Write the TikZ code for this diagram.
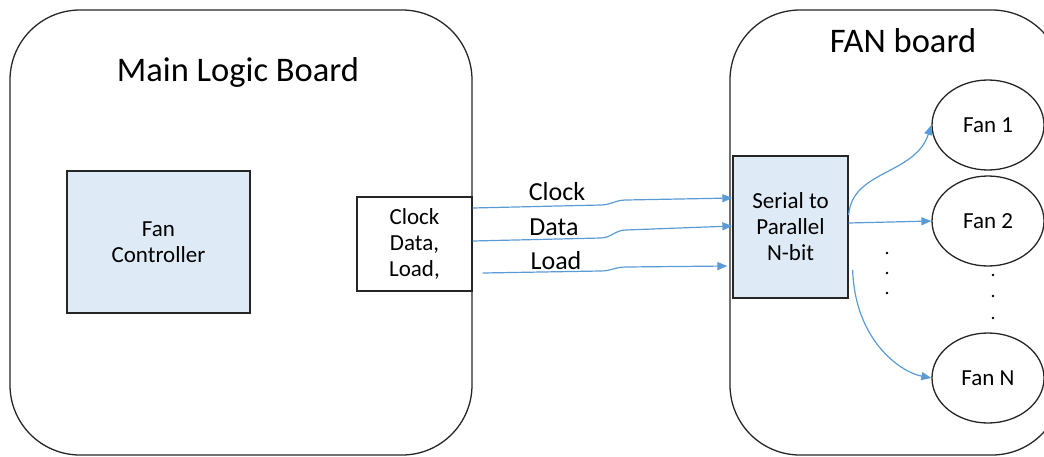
\documentclass[tikz,border=0pt]{standalone}
\usepackage{fontspec}
\setmainfont{Carlito}
\usetikzlibrary{shapes.geometric,arrows.meta}
\definecolor{boxblue}{HTML}{DEEBF7}
\definecolor{wireblue}{HTML}{5B9BD5}

\begin{document}
\begin{tikzpicture}[x=1pt,y=-1pt,
    board/.style={draw=black!85,rounded corners=70pt,line width=1.3pt,inner sep=0pt},
    block/.style={draw=black!85,line width=1.3pt,inner sep=0pt,align=center,font=\fontsize{23}{26}\selectfont},
    fan/.style={draw=black!85,ellipse,line width=1.3pt,minimum width=112pt,minimum height=90pt,inner sep=0pt,font=\fontsize{23}{26}\selectfont},
    wire/.style={draw=wireblue,line width=1.2pt,-{Triangle[length=10pt,width=8pt]}},
    lbl/.style={font=\fontsize{26}{30}\selectfont},
    title/.style={font=\fontsize{34.5}{41}\selectfont},
    vertex/.style={circle,fill=black,minimum size=2.6pt,inner sep=0pt}]
        \useasboundingbox (0,0) rectangle (1044,456);
        \clip (0,0) rectangle (1044,456);
        \path
          (241,232.5) node[board,minimum width=462pt,minimum height=445pt] (mlb) {}
          (896,232.5) node[board,minimum width=332pt,minimum height=445pt] (fb)  {};
        \node[title] (mlbt) at (238,72) {Main Logic Board};
        \node[title] (fbt)  at (903,41) {FAN board};
        \path
          (158.5,242) node[block,fill=boxblue,minimum width=183pt,minimum height=142pt] (fc)  {Fan\\Controller}
          (414.5,244) node[block,fill=white,minimum width=115pt,minimum height=94pt]    (sig) {Clock\\Data,\\Load,}
          (790.5,227) node[block,fill=boxblue,minimum width=115pt,minimum height=142pt] (s2p) {Serial to\\Parallel\\N-bit};
        \path
          (988,125) node[fan] (fan1) {Fan 1}
          (988,221) node[fan] (fan2) {Fan 2}
          (988,378) node[fan] (fanN) {Fan N};
        \path
          (887,253) node[vertex] (d1) {}
          (887,273) node[vertex] (d2) {}
          (887,293) node[vertex] (d3) {}
          (993,275) node[vertex] (d4) {}
          (993,296) node[vertex] (d5) {}
          (993,318) node[vertex] (d6) {};
        \node[lbl] (clk)  at (557,192) {Clock};
        \node[lbl] (dat)  at (554,227) {Data};
        \node[lbl] (load) at (556,261) {Load};
        % serial lines
        \draw[wire] ([yshift=36pt]sig.east) -- ++(128,-3) to[out=0,in=180] ++(25,-5) -- ([yshift=29pt]s2p.west);
        \draw[wire] ([yshift=3pt]sig.east) -- ++(128,-3) to[out=0,in=180] ++(25,-8) -- ([yshift=1pt]s2p.west);
        \draw[wire] ([xshift=10pt,yshift=-29pt]sig.east) -- ++(118,-2) to[out=0,in=180] ++(25,-4) -- ([xshift=-5pt,yshift=-39pt]s2p.west);
        % fan outputs
        \draw[wire] ([yshift=12pt]s2p.east) .. controls (852,170) and (915,175) .. (fan1.west);
        \draw[wire] ([yshift=4pt]s2p.east) -- (fan2.west);
        \draw[wire] ([xshift=4pt,yshift=-43pt]s2p.east) .. controls (855,340) and (900,372) .. (fanN.west);
\end{tikzpicture}
\end{document}
